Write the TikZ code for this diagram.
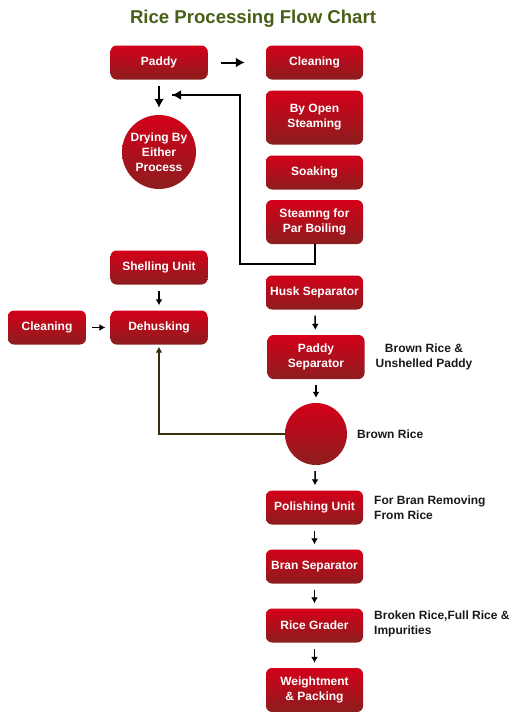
\documentclass[tikz,border=0pt]{standalone}
\usepackage{fontspec}
\setmainfont{Liberation Sans}
\usetikzlibrary{arrows.meta}
\definecolor{boxtop}{RGB}{212,0,26}
\definecolor{boxbot}{RGB}{140,30,30}
\definecolor{titlegreen}{RGB}{72,96,22}
\definecolor{linkbrown}{RGB}{58,46,10}
\begin{document}
\begin{tikzpicture}[x=1pt,y=-1pt,
  proc/.style={rounded corners=6pt, top color=boxtop, bottom color=boxbot, text=white,
    font=\bfseries\fontsize{12}{15}\selectfont, align=center,
    minimum width=97pt, minimum height=34pt, inner sep=0pt},
  tall/.style={minimum height=44pt},
  roundproc/.style={circle, top color=boxtop, bottom color=boxbot, text=white,
    font=\bfseries\fontsize{12}{15}\selectfont, align=center, inner sep=0pt},
  note/.style={font=\bfseries\fontsize{12}{15}\selectfont, text=black!90, inner sep=0pt},
  bigarrow/.style={draw=black, line width=2pt, -{Latex[length=9pt,width=10pt]}},
  smallarrow/.style={draw=black, line width=1.5pt, -{Latex[length=6pt,width=7pt]}, shorten <=6pt, shorten >=5pt}]
\useasboundingbox (0,0) rectangle (519,712);
\node[font=\bfseries\fontsize{18.6}{20}\selectfont, text=titlegreen] (title) at (253,18.5) {Rice Processing Flow Chart};

\node[proc] (paddy) at (159,62.5) {Paddy};
\node[proc] (clean1) at (314.5,62.5) {Cleaning};
\node[proc, minimum height=54pt] (open) at (314.5,117.5) {By Open\\Steaming};
\node[proc] (soak) at (314.5,172.5) {Soaking};
\node[proc, tall] (steam) at (314.5,222) {Steamng for\\Par Boiling};
\node[roundproc, minimum size=74pt] (dry) at (159,152) {Drying By\\Either\\Process};

\node[proc] (shell) at (159,267.5) {Shelling Unit};
\node[proc, minimum width=78pt] (clean2) at (47,327.5) {Cleaning};
\node[proc] (dehusk) at (159,327.5) {Dehusking};

\node[proc] (husk) at (314.5,292.5) {Husk Separator};
\node[proc, tall] (psep) at (316,357) {Paddy\\Separator};
\node[roundproc, minimum size=62pt] (brown) at (316,434) {};
\node[proc] (polish) at (314.5,507.5) {Polishing Unit};
\node[proc] (bran) at (314.5,566.5) {Bran Separator};
\node[proc] (grader) at (314.5,625.5) {Rice Grader};
\node[proc, tall] (weigh) at (314.5,690) {Weightment\\\& Packing};

\node[note, align=center] (n1) at (424,356.5) {Brown Rice \&\\Unshelled Paddy};
\node[note, anchor=west] (n2) at (357,434.5) {Brown Rice};
\node[note, align=left, anchor=west] (n3) at (374,508) {For Bran Removing\\From Rice};
\node[note, align=left, anchor=west] (n4) at (374,624) {Broken Rice,Full Rice \&\\Impurities};

\draw[bigarrow, shorten <=13pt, shorten >=21pt] (paddy.east) -- (clean1.west);
\draw[bigarrow, shorten <=6pt, shorten >=7pt] (paddy.south) -- (dry.north);
\coordinate (loopend) at (172,95);
\draw[draw=black, line width=2pt] (steam.south) -- ++(0,20) -| (240,95) -- (loopend);
\draw[bigarrow] (200,95) -- (loopend);

\draw[smallarrow] (shell) -- (dehusk);
\draw[smallarrow] (clean2) -- (dehusk);
\draw[smallarrow] (husk) -- (psep);
\draw[smallarrow] (psep) -- (brown);
\draw[smallarrow] (brown) -- (polish);
\draw[smallarrow] (polish) -- (bran);
\draw[smallarrow] (bran) -- (grader);
\draw[smallarrow] (grader) -- (weigh);
\draw[line width=1.5pt, draw=linkbrown, -{Latex[length=6pt,width=7pt]}, shorten >=2pt] (brown.west) -| (dehusk.south);
\end{tikzpicture}
\end{document}
